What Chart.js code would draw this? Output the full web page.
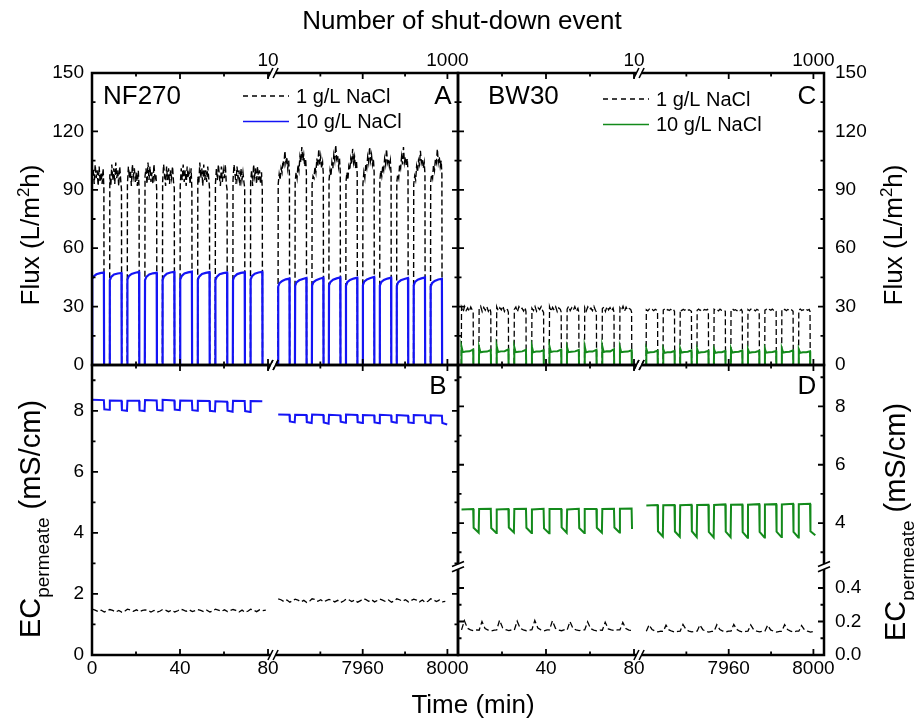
<!DOCTYPE html>
<html>
<head>
<meta charset="utf-8">
<script src="https://cdn.jsdelivr.net/npm/chart.js@4.4.1/dist/chart.umd.min.js"></script>
<style>
  body { margin: 0; background: #fff; }
  #wrap { position: relative; width: 914px; height: 723px; }
  #wrap canvas { position: absolute; left: 0; top: 0; }
</style>
</head>
<body>
<div id="wrap">
  <canvas id="cA" width="914" height="723"></canvas>
  <canvas id="cB" width="914" height="723"></canvas>
  <canvas id="cC" width="914" height="723"></canvas>
  <canvas id="cD" width="914" height="723"></canvas>
</div>
<script>
// cycle start times (min), each cycle = 8 min (one shut-down event)
const nfStart1 = [0, 8, 16, 24, 32, 40, 48, 56, 64, 72];
const nfStart2 = [7920, 7928, 7936, 7944, 7952, 7960, 7968, 7976, 7984, 7992];
const bwStart1 = [1.5, 9.5, 17.5, 25.5, 33.5, 41.5, 49.5, 57.5, 65.5, 73.5];
const bwStart2 = [7921, 7929, 7937, 7945, 7953, 7961, 7969, 7977, 7985, 7993];

// sample times inside a cycle (min after cycle start)
const onT13 = [0.1, 0.55, 1.0, 1.45, 1.9, 2.35, 2.8, 3.25, 3.7, 4.15, 4.6, 5.05, 5.4];
const onT9 = [0.1, 0.8, 1.5, 2.2, 2.9, 3.6, 4.3, 5.0, 5.4];
const onT5 = [0.1, 0.7, 2.0, 3.7, 5.4];
const offT = 5.5;
const ecT = [0.1, 5.4, 5.6, 7.9];
const ecBlackT = [0.1, 1.4, 2.8, 4.2, 5.6, 7.0];

// A: NF270 flux, 1 g/L NaCl
const fluxNF1a = [
  [95,101,93,103,96,100,92,102,94,99,93,101,91], [98,92,103,95,101,93,104,96,100,92,102,95,90],
  [93,102,96,100,92,103,97,101,94,99,92,100,91], [97,101,93,104,95,102,94,99,93,103,96,98,90],
  [94,103,97,92,102,95,101,93,100,96,102,94,91], [92,101,95,103,94,100,92,102,96,99,93,101,90],
  [97,93,104,96,101,92,103,95,100,94,102,96,91], [93,101,95,103,97,92,102,94,100,96,103,93,90],
  [95,103,98,93,102,96,100,92,101,95,99,94,91], [94,100,92,103,97,101,93,102,95,100,93,99,90]
];
const fluxNF1b = [
  [93,98,95,101,99,105,103,110,104,107,101,105,98], [94,99,96,103,100,107,104,112,105,108,102,106,99],
  [93,97,96,102,99,106,102,111,103,107,101,104,98], [95,100,97,104,101,108,105,113,106,108,102,106,99],
  [94,99,95,102,100,106,103,111,104,107,101,105,98], [93,99,96,103,101,107,104,112,105,108,103,106,99],
  [95,100,97,102,100,106,103,111,104,106,102,105,98], [94,98,96,103,101,107,103,112,104,107,102,106,99],
  [93,97,95,102,99,105,103,110,104,106,101,104,98], [94,98,96,103,100,106,104,111,104,107,102,105,98]
];
// A: NF270 flux, 10 g/L NaCl
const fluxNF10a = [
  [44.0,45.5,46.6,47.2,47.5], [43.5,45.2,46.5,47.0,47.3], [43.8,45.6,46.8,47.4,47.8],
  [43.6,45.3,46.5,47.1,47.4], [43.7,45.5,46.9,47.5,47.9], [43.9,45.6,47.0,47.6,48.0],
  [43.8,45.4,46.8,47.3,47.7], [43.6,45.3,46.6,47.2,47.5], [43.7,45.4,46.7,47.3,47.6],
  [43.9,45.6,46.9,47.5,47.9]
];
const fluxNF10b = [
  [40.2,42.0,43.2,44.0,44.4], [40.6,42.4,43.5,44.2,44.7], [40.8,42.5,43.6,44.3,44.8],
  [40.9,42.6,43.8,44.5,45.0], [40.7,42.5,43.7,44.4,44.9], [41.0,42.8,44.0,44.7,45.2],
  [40.8,42.5,43.7,44.4,44.9], [40.6,42.4,43.5,44.2,44.7], [40.9,42.7,43.8,44.5,45.0],
  [40.3,42.0,43.2,43.9,44.3]
];
// C: BW30 flux, 1 g/L NaCl
const fluxBW1a = [
  [29.5,27.2,30.1,28.0,29.3,27.5,29.8,28.2,27.0], [28.8,30.2,27.4,29.6,28.1,30.0,27.6,29.1,27.2],
  [29.9,27.8,29.4,28.3,30.3,27.5,29.0,28.4,27.1], [28.5,29.8,27.3,30.0,28.6,29.2,27.7,29.5,27.3],
  [29.2,28.0,30.1,27.6,29.4,28.5,30.0,27.8,27.0], [30.0,27.5,29.6,28.2,29.9,27.4,29.3,28.6,27.2],
  [28.7,30.2,27.9,29.4,28.1,30.0,27.6,29.1,27.1], [29.6,27.7,29.9,28.4,29.2,27.9,30.1,28.0,27.3],
  [28.9,29.8,27.5,30.0,28.3,29.5,27.8,29.2,27.0], [29.4,28.1,30.2,27.6,29.7,28.2,29.0,28.5,27.2]
];
const fluxBW1b = [
  [28.4,27.8,28.7,28.0,28.5,27.9,28.6,28.1,27.6], [28.2,28.8,27.9,28.5,28.0,28.6,27.8,28.4,27.5],
  [28.5,27.9,28.6,28.1,28.7,28.0,28.4,27.9,27.6], [28.1,28.7,28.0,28.6,27.9,28.5,28.2,28.6,27.5],
  [28.6,28.0,28.5,27.8,28.7,28.1,28.4,28.0,27.6], [28.3,28.8,28.1,28.4,27.9,28.6,28.0,28.5,27.5],
  [28.5,27.9,28.7,28.2,28.5,27.8,28.6,28.1,27.6], [28.2,28.6,27.9,28.5,28.1,28.7,28.0,28.3,27.5],
  [28.4,28.0,28.6,27.9,28.5,28.2,28.7,28.0,27.6], [28.3,28.7,28.0,28.4,27.9,28.6,28.1,28.5,27.5]
];
// C: BW30 flux, 10 g/L NaCl
const fluxBW10a = [
  [9.4,6.6,6.9,7.0,7.9], [9.1,6.5,6.8,6.9,7.7], [9.6,6.7,7.0,7.1,8.0], [9.2,6.6,6.8,7.0,7.8],
  [9.3,6.5,6.9,6.9,7.6], [9.5,6.7,7.0,7.1,7.9], [9.0,6.6,6.8,7.0,7.7], [9.4,6.5,6.9,6.9,7.8],
  [9.6,6.7,7.1,7.0,8.1], [9.1,6.6,6.8,6.9,7.6]
];
const fluxBW10b = [
  [8.3,6.3,6.6,6.7,7.4], [8.1,6.2,6.5,6.6,7.2], [8.4,6.4,6.7,6.8,7.5], [8.2,6.3,6.6,6.7,7.3],
  [8.0,6.2,6.5,6.6,7.2], [8.3,6.4,6.7,6.8,7.4], [8.1,6.3,6.6,6.7,7.3], [8.2,6.3,6.5,6.7,7.2],
  [8.4,6.4,6.7,6.8,7.5], [8.0,6.2,6.5,6.6,7.1]
];
// B: NF270 permeate EC (mS/cm)
const ecNF10a = [
  [8.36,8.35,8.05,8.03], [8.34,8.33,8.02,8.00], [8.33,8.33,8.01,7.99], [8.35,8.34,8.03,8.01],
  [8.36,8.34,8.04,8.02], [8.34,8.33,8.02,8.00], [8.33,8.32,8.00,7.98], [8.31,8.30,8.00,7.97],
  [8.33,8.32,7.99,7.96], [8.32,8.31,null,null]
];
const ecNF10b = [
  [7.88,7.87,7.65,7.62], [7.87,7.86,7.63,7.60], [7.88,7.86,7.62,7.58], [7.87,7.85,7.64,7.61],
  [7.88,7.86,7.63,7.60], [7.86,7.85,7.62,7.59], [7.87,7.85,7.64,7.61], [7.86,7.84,7.62,7.60],
  [7.86,7.85,7.63,7.59], [7.85,7.84,7.60,7.55]
];
const ecNF1a = [
  [1.50,1.47,1.42,1.47,1.41,1.45], [1.49,1.46,1.41,1.46,1.40,1.44], [1.50,1.48,1.43,1.48,1.42,1.46],
  [1.48,1.46,1.41,1.46,1.40,1.44], [1.49,1.47,1.42,1.47,1.41,1.45], [1.50,1.48,1.43,1.48,1.42,1.46],
  [1.49,1.46,1.42,1.47,1.41,1.45], [1.50,1.47,1.43,1.48,1.42,1.46], [1.49,1.46,1.41,1.47,1.40,1.44],
  [1.50,1.47,1.42,1.48,1.45,1.47]
];
const ecNF1b = [
  [1.84,1.81,1.75,1.80,1.73,1.78], [1.83,1.80,1.74,1.79,1.72,1.77], [1.84,1.82,1.76,1.81,1.74,1.79],
  [1.82,1.80,1.74,1.79,1.72,1.77], [1.83,1.81,1.75,1.80,1.73,1.78], [1.84,1.82,1.76,1.81,1.74,1.79],
  [1.83,1.80,1.75,1.80,1.73,1.78], [1.84,1.81,1.76,1.81,1.74,1.79], [1.83,1.80,1.74,1.80,1.72,1.77],
  [1.84,1.81,1.75,1.80,1.74,1.76]
];
// D: BW30 permeate EC (mS/cm)
const ecBW10a = [
  [4.47,4.48,3.84,3.67], [4.48,4.49,3.83,3.66], [4.47,4.48,3.85,3.68], [4.48,4.49,3.84,3.66],
  [4.47,4.49,3.82,3.65], [4.48,4.48,3.85,3.67], [4.47,4.49,3.83,3.66], [4.48,4.48,3.84,3.67],
  [4.48,4.49,3.85,3.68], [4.49,4.50,3.80,null]
];
const ecBW10b = [
  [4.60,4.62,3.72,3.54], [4.61,4.62,3.71,3.53], [4.61,4.63,3.72,3.52], [4.62,4.63,3.70,3.51],
  [4.62,4.64,3.71,3.52], [4.63,4.64,3.69,3.50], [4.63,4.65,3.70,3.51], [4.64,4.65,3.71,3.52],
  [4.64,4.66,3.70,3.51], [4.65,4.66,3.72,3.58]
];
const ecBW1a = [
  [0.150,0.205,0.160,0.150,0.145,0.150], [0.148,0.200,0.158,0.149,0.144,0.149],
  [0.150,0.208,0.162,0.151,0.146,0.150], [0.149,0.202,0.159,0.150,0.145,0.149],
  [0.151,0.206,0.161,0.150,0.144,0.150], [0.150,0.204,0.160,0.149,0.145,0.151],
  [0.149,0.200,0.158,0.150,0.146,0.150], [0.150,0.198,0.157,0.149,0.144,0.149],
  [0.148,0.196,0.156,0.150,0.145,0.150], [0.150,0.195,0.158,0.149,0.146,null]
];
const ecBW1b = [
  [0.142,0.180,0.152,0.143,0.138,0.142], [0.141,0.178,0.150,0.142,0.137,0.141],
  [0.143,0.182,0.153,0.143,0.138,0.142], [0.142,0.179,0.151,0.142,0.137,0.141],
  [0.141,0.181,0.152,0.143,0.138,0.142], [0.142,0.183,0.153,0.142,0.137,0.141],
  [0.143,0.180,0.151,0.143,0.138,0.142], [0.142,0.178,0.150,0.142,0.137,0.141],
  [0.141,0.181,0.152,0.143,0.138,0.142], [0.142,0.176,0.150,0.142,0.137,0.140]
];

// axis ticks and labels
const xMajor = [0, 40, 80, 7960, 8000];
const xMinor = [20, 60, 7940, 7980];
const xLabelsBottomLeft = ['0', '40', '80', '7960', '8000'];
const xLabelsBottomRight = ['', '40', '80', '7960', '8000'];
const xLabelsTop = ['', '', '10', '', '1000'];
const fluxMajor = [0, 30, 60, 90, 120, 150];
const fluxMinor = [15, 45, 75, 105, 135];
const ecNFMajor = [0, 2, 4, 6, 8];
const ecNFMinor = [1, 3, 5, 7, 9];
const ecBWMajor = [0, 0.2, 0.4, 4, 6, 8];
const ecBWMinor = [0.1, 0.3, 3, 5, 7, 9];
const ecBWLabels = ['0.0', '0.2', '0.4', '4', '6', '8'];

const FONT = "'Liberation Sans', Arial, sans-serif";
Chart.defaults.font.family = FONT;
Chart.defaults.font.size = 19;
Chart.defaults.color = '#000';

// linear scale with an axis break: segments = [from, to, startFraction, endFraction]
class BrokenScale extends Chart.LinearScale {
  static id = 'broken';
  static defaults = {};
  buildTicks() {
    this.start = this.min;
    this.end = this.max;
    return this.options.major.map(v => ({ value: v }));
  }
  toDecimal(v) {
    const segs = this.options.segments;
    let prev = null;
    for (const s of segs) {
      if (prev && v < s[0]) return prev[3] + (v - prev[1]) / (s[0] - prev[1]) * (s[2] - prev[3]);
      if (v <= s[1]) return s[2] + (v - s[0]) / (s[1] - s[0]) * (s[3] - s[2]);
      prev = s;
    }
    return prev[2] + (v - prev[0]) / (prev[1] - prev[0]) * (prev[3] - prev[2]);
  }
  getPixelForValue(v) {
    if (v === null || v === undefined || isNaN(v)) return NaN;
    return this.getPixelForDecimal(this.toDecimal(v));
  }
  getValueForPixel(px) {
    const d = this.getDecimalForPixel(px);
    for (const s of this.options.segments) {
      if (d <= s[3]) return s[0] + (d - s[2]) / (s[3] - s[2]) * (s[1] - s[0]);
    }
    return this.max;
  }
}
Chart.register(BrokenScale);

const timeSegments = [[0, 80, 0, 0.4809], [7920, 8005, 0.5082, 1]];

function fluxCycles(starts, offsets, vals) {
  const pts = [];
  starts.forEach((t0, i) => {
    pts.push({ x: t0, y: 0 });
    vals[i].forEach((v, j) => pts.push({ x: t0 + offsets[j], y: v }));
    pts.push({ x: t0 + offT, y: 0 });
  });
  return pts;
}
function ecCycles(starts, offsets, vals) {
  const pts = [];
  starts.forEach((t0, i) => {
    vals[i].forEach((v, j) => { if (v !== null) pts.push({ x: t0 + offsets[j], y: v }); });
  });
  return pts;
}
function join(a, b) {
  return [...a, { x: 4000, y: null }, ...b];
}

// rotated axis title with sub/superscript parts: [text, 0 | 1 (sup) | -1 (sub)]
function rich(ctx, parts, x, y, size, ratio) {
  ctx.save();
  ctx.translate(x, y);
  ctx.rotate(-Math.PI / 2);
  const f = m => (m ? Math.round(size * ratio) : size) + 'px ' + FONT;
  let total = 0;
  parts.forEach(p => { ctx.font = f(p[1]); total += ctx.measureText(p[0]).width; });
  let cx = -total / 2;
  ctx.fillStyle = '#000';
  ctx.textAlign = 'left';
  ctx.textBaseline = 'alphabetic';
  parts.forEach(p => {
    ctx.font = f(p[1]);
    const dy = p[1] === 1 ? -size * 0.4 : p[1] === -1 ? size * 0.3 : 0;
    ctx.fillText(p[0], cx, size * 0.36 + dy);
    cx += ctx.measureText(p[0]).width;
  });
  ctx.restore();
}

function xBreak(ctx, x, y) {
  ctx.fillStyle = '#fff';
  ctx.fillRect(x - 2.5, y - 2, 5, 4);
  ctx.strokeStyle = '#000';
  ctx.lineWidth = 1.6;
  [-2.6, 2.6].forEach(o => {
    ctx.beginPath(); ctx.moveTo(x + o - 2.5, y + 5); ctx.lineTo(x + o + 2.5, y - 5); ctx.stroke();
  });
}
function yBreak(ctx, x, y) {
  ctx.fillStyle = '#fff';
  ctx.fillRect(x - 2, y - 2.5, 4, 5);
  ctx.strokeStyle = '#000';
  ctx.lineWidth = 1.6;
  [-2.6, 2.6].forEach(o => {
    ctx.beginPath(); ctx.moveTo(x - 6, y + o + 2.5); ctx.lineTo(x + 6, y + o - 2.5); ctx.stroke();
  });
}

const framePlugin = {
  id: 'frame',
  afterDatasetsDraw(chart, args, o) {
    const { ctx, chartArea: a } = chart;
    const xs = chart.scales.x, ys = chart.scales.y;
    ctx.save();
    ctx.strokeStyle = '#000';
    ctx.lineWidth = 2.5;
    ctx.strokeRect(a.left, a.top, a.right - a.left, a.bottom - a.top);
    ctx.lineWidth = 1.8;
    const tx = (vals, len) => vals.forEach(v => {
      const p = xs.getPixelForValue(v);
      ctx.beginPath();
      ctx.moveTo(p, a.top); ctx.lineTo(p, a.top + len);
      ctx.moveTo(p, a.bottom); ctx.lineTo(p, a.bottom - len);
      ctx.stroke();
    });
    const ty = (vals, len) => vals.forEach(v => {
      const p = ys.getPixelForValue(v);
      ctx.beginPath();
      ctx.moveTo(a.left, p); ctx.lineTo(a.left + len, p);
      ctx.moveTo(a.right, p); ctx.lineTo(a.right - len, p);
      ctx.stroke();
    });
    tx(xs.options.major, 6); tx(xs.options.minor, 3.5);
    ty(ys.options.major, 6); ty(ys.options.minor, 3.5);
    const gapsOf = s => {
      const segs = s.options.segments, out = [];
      for (let i = 1; i < segs.length; i++) out.push(s.getPixelForDecimal((segs[i - 1][3] + segs[i][2]) / 2));
      return out;
    };
    gapsOf(xs).forEach(p => { xBreak(ctx, p, a.top); xBreak(ctx, p, a.bottom); });
    gapsOf(ys).forEach(p => { yBreak(ctx, a.left, p); yBreak(ctx, a.right, p); });

    ctx.fillStyle = '#000';
    ctx.textBaseline = 'middle';
    ctx.font = '26px ' + FONT;
    if (o.name) { ctx.textAlign = 'left'; ctx.fillText(o.name, a.left + o.nameDx, a.top + 24); }
    ctx.textAlign = 'center';
    ctx.fillText(o.letter, a.right - o.letterDx, a.top + o.letterDy);

    if (o.legend) {
      ctx.font = '20px ' + FONT;
      ctx.textAlign = 'left';
      const ds = chart.data.datasets.slice().reverse();
      ds.forEach((d, i) => {
        const y = a.top + o.legendY + i * 25.5;
        const x0 = a.left + o.legendX;
        ctx.save();
        ctx.strokeStyle = d.borderColor;
        ctx.lineWidth = Math.min(d.borderWidth, 1.4);
        ctx.setLineDash(d.borderDash.length ? [5, 4] : []);
        ctx.beginPath(); ctx.moveTo(x0, y); ctx.lineTo(x0 + 46, y); ctx.stroke();
        ctx.restore();
        ctx.fillText(d.label, x0 + 53, y + 1);
      });
    }
    if (o.yTitle) rich(ctx, o.yTitle, o.yTitleX, o.yTitleY, o.yTitleSize, o.yTitleRatio);
    if (o.figTitles) {
      ctx.font = '26px ' + FONT;
      ctx.textAlign = 'center';
      ctx.fillText('Number of shut-down event', 462, 22);
      ctx.fillText('Time (min)', 473, 706);
    }
    ctx.restore();
  }
};

function xAxis(position, labels) {
  return {
    type: 'broken', position, min: 0, max: 8005,
    segments: timeSegments, major: xMajor, minor: xMinor,
    grid: { display: false, drawTicks: false }, border: { display: false },
    ticks: { autoSkip: false, maxRotation: 0, padding: position === 'top' ? 1 : 2,
      callback: (v, i) => labels[i] },
    afterFit: s => { s.height = 40; }
  };
}
function yAxis(position, min, max, segments, major, minor, labels) {
  return {
    type: 'broken', position, min, max, segments, major, minor,
    grid: { display: false, drawTicks: false }, border: { display: false },
    ticks: { autoSkip: false, padding: position === 'left' ? 8 : 11,
      callback: (v, i) => labels[i] },
    afterFit: s => { s.width = 60; }
  };
}

const BLUE = '#1414f5', GREEN = '#138a1b';
function line(label, data, color, dashed, width) {
  return {
    label, data, borderColor: color, borderWidth: width,
    borderDash: dashed ? [6, 3] : [], pointRadius: 0, fill: false, tension: 0
  };
}

function make(id, datasets, scales, padding, frame) {
  return new Chart(document.getElementById(id), {
    type: 'line',
    data: { datasets },
    options: {
      responsive: false, animation: false, devicePixelRatio: 1,
      layout: { padding },
      scales,
      plugins: { legend: { display: false }, tooltip: { enabled: false }, frame }
    },
    plugins: [framePlugin]
  });
}

const fluxSegs = [[0, 150, 0, 1]];
const fluxLabels = fluxMajor.map(String);
const fluxTitle = [['Flux (L/m', 0], ['2', 1], ['h)', 0]];
const ecTitle = [['EC', 0], ['permeate', -1], [' (mS/cm)', 0]];

make('cA', [
  line('10 g/L NaCl', join(fluxCycles(nfStart1, onT5, fluxNF10a), fluxCycles(nfStart2, onT5, fluxNF10b)), BLUE, false, 2.2),
  line('1 g/L NaCl', join(fluxCycles(nfStart1, onT13, fluxNF1a), fluxCycles(nfStart2, onT13, fluxNF1b)), '#000', true, 1.4)
], {
  x: xAxis('top', xLabelsTop),
  y: yAxis('left', 0, 150, fluxSegs, fluxMajor, fluxMinor, fluxLabels)
}, { left: 32, top: 33, right: 456, bottom: 358 }, {
  name: 'NF270', nameDx: 11, letter: 'A', letterDx: 15, letterDy: 24,
  legend: true, legendX: 151, legendY: 23,
  yTitle: fluxTitle, yTitleX: 30, yTitleY: 235, yTitleSize: 26, yTitleRatio: 0.65,
  figTitles: true
});

make('cB', [
  line('10 g/L NaCl', join(ecCycles(nfStart1, ecT, ecNF10a), ecCycles(nfStart2, ecT, ecNF10b)), BLUE, false, 2),
  line('1 g/L NaCl', join(ecCycles(nfStart1, ecBlackT, ecNF1a), ecCycles(nfStart2, ecBlackT, ecNF1b)), '#000', true, 1.3)
], {
  x: xAxis('bottom', xLabelsBottomLeft),
  y: yAxis('left', 0, 9.5, [[0, 9.5, 0, 1]], ecNFMajor, ecNFMinor, ecNFMajor.map(String))
}, { left: 32, top: 365, right: 456, bottom: 28 }, {
  letter: 'B', letterDx: 20, letterDy: 22,
  yTitle: ecTitle, yTitleX: 30, yTitleY: 519, yTitleSize: 29, yTitleRatio: 0.66
});

make('cC', [
  line('10 g/L NaCl', join(fluxCycles(bwStart1, onT5, fluxBW10a), fluxCycles(bwStart2, onT5, fluxBW10b)), GREEN, false, 2),
  line('1 g/L NaCl', join(fluxCycles(bwStart1, onT9, fluxBW1a), fluxCycles(bwStart2, onT9, fluxBW1b)), '#000', true, 1.3)
], {
  x: xAxis('top', xLabelsTop),
  y: yAxis('right', 0, 150, fluxSegs, fluxMajor, fluxMinor, fluxLabels)
}, { left: 458, top: 33, right: 30, bottom: 358 }, {
  name: 'BW30', nameDx: 30, letter: 'C', letterDx: 17, letterDy: 24,
  legend: true, legendX: 145, legendY: 26,
  yTitle: fluxTitle, yTitleX: 893, yTitleY: 235, yTitleSize: 26, yTitleRatio: 0.65
});

make('cD', [
  line('10 g/L NaCl', join(ecCycles(bwStart1, ecT, ecBW10a), ecCycles(bwStart2, ecT, ecBW10b)), GREEN, false, 2),
  line('1 g/L NaCl', join(ecCycles(bwStart1, ecBlackT, ecBW1a), ecCycles(bwStart2, ecBlackT, ecBW1b)), '#000', true, 1.3)
], {
  x: xAxis('bottom', xLabelsBottomRight),
  y: yAxis('right', 0, 9.42, [[0, 0.52, 0, 0.3003], [2.55, 9.42, 0.309, 1]], ecBWMajor, ecBWMinor, ecBWLabels)
}, { left: 458, top: 365, right: 30, bottom: 28 }, {
  letter: 'D', letterDx: 17, letterDy: 22,
  yTitle: ecTitle, yTitleX: 895, yTitleY: 522, yTitleSize: 29, yTitleRatio: 0.66
});
</script>
</body>
</html>
